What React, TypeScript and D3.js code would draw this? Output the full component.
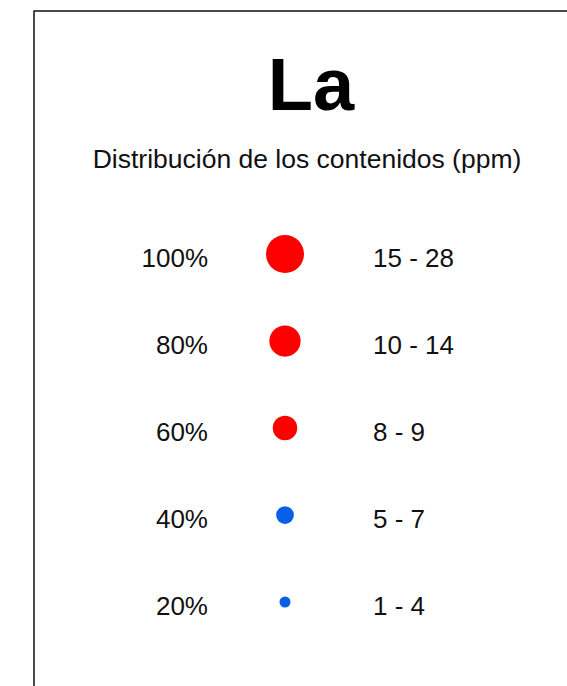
import { useEffect, useRef } from "react"
import * as d3 from "d3"

const element = "La"
const subtitle = "Distribución de los contenidos (ppm)"
const percents = [100, 80, 60, 40, 20]
const ranges = ["15 - 28", "10 - 14", "8 - 9", "5 - 7", "1 - 4"]
const colors = ["#ff0000", "#ff0000", "#ff0000", "#0a5fe6", "#0a5fe6"]

const width = 567
const height = 686

export default function App() {
  const svgRef = useRef<SVGSVGElement>(null)

  useEffect(() => {
    if (!svgRef.current) return
    const svg = d3.select(svgRef.current)
    svg.selectAll("*").remove()

    const font = "Liberation Sans, Arial, sans-serif"

    // marco
    svg
      .append("rect")
      .attr("x", 34)
      .attr("y", 11)
      .attr("width", 600)
      .attr("height", 720)
      .style("fill", "none")
      .style("stroke", "#111")
      .style("stroke-width", "1.5px")

    svg
      .append("text")
      .text(element)
      .attr("x", 311)
      .attr("y", 110)
      .attr("text-anchor", "middle")
      .style("font-family", font)
      .style("font-weight", "bold")
      .style("font-size", "74px")
      .style("fill", "#000")

    svg
      .append("text")
      .text(subtitle)
      .attr("x", 307)
      .attr("y", 168)
      .attr("text-anchor", "middle")
      .style("font-family", font)
      .style("font-size", "26.5px")
      .style("fill", "#111")

    const y = d3.scalePoint<number>().domain(percents).range([254, 602])
    const r = d3.scaleLinear().domain([20, 100]).range([5.5, 19])

    const rows = svg
      .selectAll(".row")
      .data(percents)
      .enter()
      .append("g")
      .attr("class", "row")
      .attr("transform", (d) => `translate(0,${y(d)})`)

    rows
      .append("text")
      .text((d) => `${d}%`)
      .attr("x", 208)
      .attr("dy", "0.5em")
      .attr("text-anchor", "end")
      .style("font-family", font)
      .style("font-size", "26px")
      .style("fill", "#111")

    rows
      .append("circle")
      .attr("cx", 285)
      .attr("r", (d) => r(d))
      .style("fill", (d, i) => colors[i])

    rows
      .append("text")
      .text((d, i) => ranges[i])
      .attr("x", 373)
      .attr("dy", "0.5em")
      .style("font-family", font)
      .style("font-size", "26px")
      .style("fill", "#111")
  }, [])

  return (
    <svg
      ref={svgRef}
      width={width}
      height={height}
      style={{ position: "absolute", left: 0, top: 0, background: "#fff" }}
    />
  )
}
